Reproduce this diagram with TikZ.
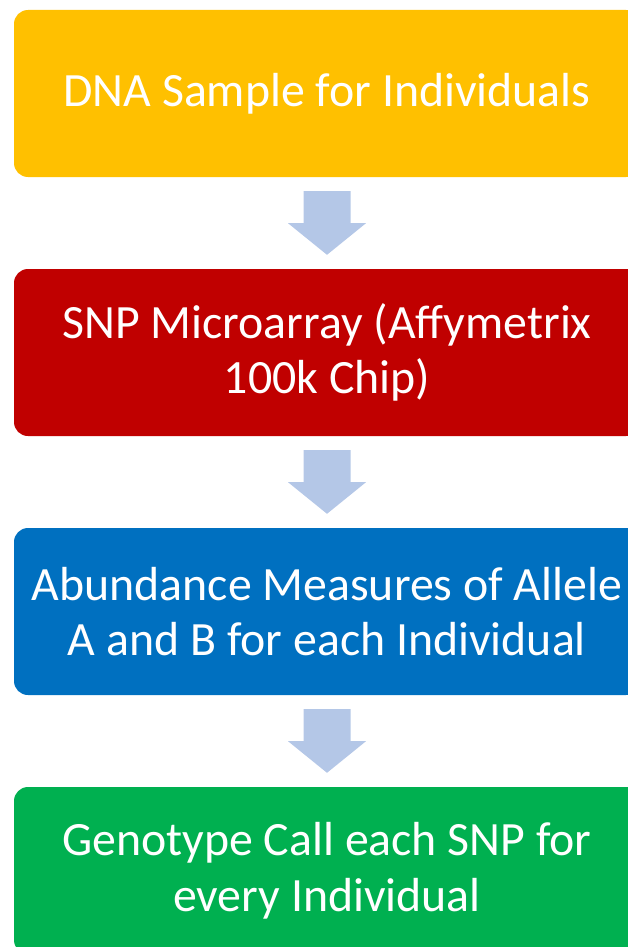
\documentclass[tikz,border=0pt]{standalone}
\usepackage{fontspec}
\setmainfont{Carlito}
\usetikzlibrary{calc}

\definecolor{boxyellow}{HTML}{FFC000}
\definecolor{boxred}{HTML}{C00000}
\definecolor{boxblue}{HTML}{0070C0}
\definecolor{boxgreen}{HTML}{00B050}
\definecolor{arrowblue}{HTML}{B4C7E7}

\tikzset{
  stepbox/.style={rectangle, rounded corners=14pt, minimum width=626pt,
    minimum height=167pt, inner sep=0pt, text=white, align=center,
    font=\fontsize{47.8}{55.5}\selectfont},
  flowfill/.style={fill=arrowblue}
}

% block arrow from the bottom of one box to the top of the next
\newcommand\flowarrow[2]{%
  \fill[flowfill] ($(#1.south)+(-23.5pt,-14pt)$) -- ($(#1.south)+(23.5pt,-14pt)$)
    -- ($(#1.south)+(23.5pt,-46pt)$) -- ($(#1.south)+(39pt,-46pt)$)
    -- ($(#2.north)+(0pt,14pt)$)
    -- ($(#1.south)+(-39pt,-46pt)$) -- ($(#1.south)+(-23.5pt,-46pt)$) -- cycle;}

\begin{document}
\begin{tikzpicture}[x=1pt,y=1pt]
  \useasboundingbox (0,0) rectangle (627,-947);

  \node[stepbox, fill=boxyellow] (b1) at (327,-93.5) {DNA Sample for Individuals};
  \node[stepbox, fill=boxred]    (b2) at (327,-352.5) {SNP Microarray (Affymetrix\\100k Chip)};
  \node[stepbox, fill=boxblue]   (b3) at (327,-611.5) {Abundance Measures of Allele\\A and B for each Individual};
  \node[stepbox, fill=boxgreen]  (b4) at (327,-870.5) {Genotype Call each SNP for\\every Individual};

  \flowarrow{b1}{b2}
  \flowarrow{b2}{b3}
  \flowarrow{b3}{b4}
\end{tikzpicture}
\end{document}
